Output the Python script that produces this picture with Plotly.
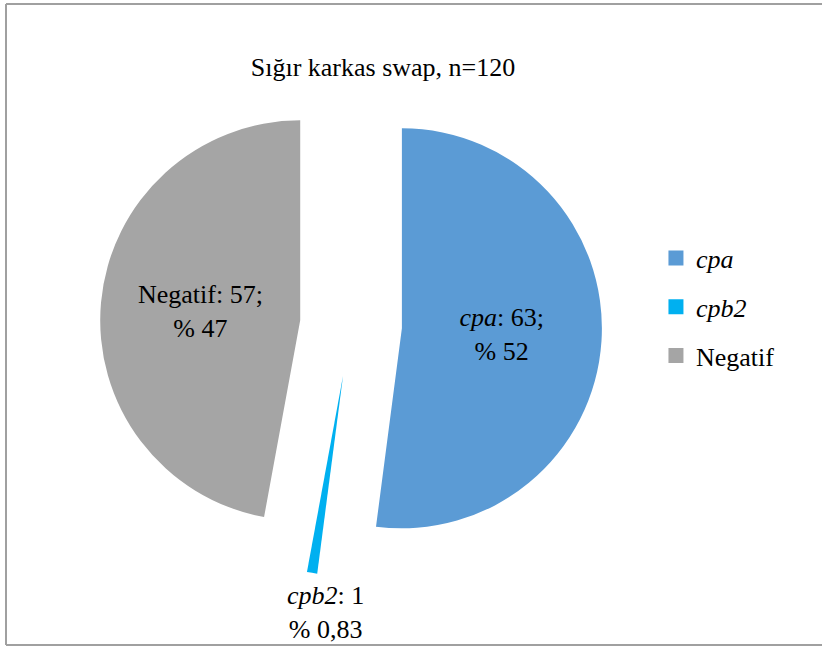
import math
import plotly.graph_objects as go

# Swab results, bovine carcass
labels = ["cpa", "cpb2", "Negatif"]
label_html = ["<i>cpa</i>", "<i>cpb2</i>", "Negatif"]
values = [63, 1, 57]
pct_labels = ["52", "0,83", "47"]
colors = ["#5b9bd5", "#00b0f0", "#a5a5a5"]
title_text = "Sığır karkas swap, n=120"

SERIF = "Times New Roman, Liberation Serif, serif"
W, H = 822, 647
FS = 26
PULL = 0.255

# pie placement (pixels): centre and half-size of the square domain
CX, CY, HALF = 351, 325, 251

slice_text = [
    f"{lh}: {v};<br>% {p}" for lh, v, p in zip(label_html, values, pct_labels)
]
small_text = f"{label_html[1]}: {values[1]}<br>% {pct_labels[1]}"
slice_text[1] = ""

fig = go.Figure()
fig.add_trace(go.Pie(
    labels=labels,
    values=values,
    text=slice_text,
    textinfo="text",
    textposition="inside",
    insidetextorientation="horizontal",
    textfont=dict(family=SERIF, size=FS, color="black"),
    marker=dict(colors=colors, line=dict(width=0)),
    pull=[PULL] * len(values),
    sort=False,
    direction="clockwise",
    rotation=0,
    showlegend=False,
    hoverinfo="label+value+percent",
    domain=dict(x=[(CX - HALF) / W, (CX + HALF) / W],
                y=[1 - (CY + HALF) / H, 1 - (CY - HALF) / H]),
))

# label for the thin cpb2 slice, set below the tip of that slice
total = sum(values)
mid = 360 * (values[0] + values[1] / 2) / total
tip_x = CX + HALF * math.sin(math.radians(mid))
tip_y = CY - HALF * math.cos(math.radians(mid))
fig.add_annotation(
    text=small_text, xref="paper", yref="paper",
    x=(tip_x + 13) / W, y=1 - (tip_y + 40) / H,
    xanchor="center", yanchor="middle", showarrow=False,
    font=dict(family=SERIF, size=FS, color="black"),
)

# Legend entries: square swatches, one group each for even spacing
for lh, c in zip(label_html, colors):
    fig.add_trace(go.Scatter(
        x=[None], y=[None], mode="markers", name=lh,
        marker=dict(symbol="square", size=15, color=c),
        legendgroup=lh, showlegend=True, hoverinfo="skip",
    ))

fig.update_layout(
    width=W, height=H,
    margin=dict(l=0, r=0, t=0, b=0, autoexpand=False),
    paper_bgcolor="white",
    plot_bgcolor="white",
    title=dict(text=title_text, x=383 / W, xanchor="center",
               y=1 - 67 / H, yanchor="middle", yref="container",
               font=dict(family=SERIF, size=FS, color="black")),
    legend=dict(x=0.798, y=1 - 307 / H, yanchor="middle", xanchor="left",
                font=dict(family=SERIF, size=FS, color="black"),
                tracegroupgap=12, itemwidth=30, bgcolor="rgba(0,0,0,0)"),
    xaxis=dict(visible=False),
    yaxis=dict(visible=False),
    shapes=[
        dict(type="line", xref="paper", yref="paper", x0=6 / W, x1=1, y0=1 - 4 / H, y1=1 - 4 / H,
             line=dict(color="#a0a0a0", width=2)),
        dict(type="line", xref="paper", yref="paper", x0=6 / W, x1=6 / W, y0=1 - 4 / H, y1=1 - 645 / H,
             line=dict(color="#a0a0a0", width=2)),
        dict(type="line", xref="paper", yref="paper", x0=6 / W, x1=1, y0=1 - 645 / H, y1=1 - 645 / H,
             line=dict(color="#a0a0a0", width=2)),
    ],
)

fig.write_html("out.html")
